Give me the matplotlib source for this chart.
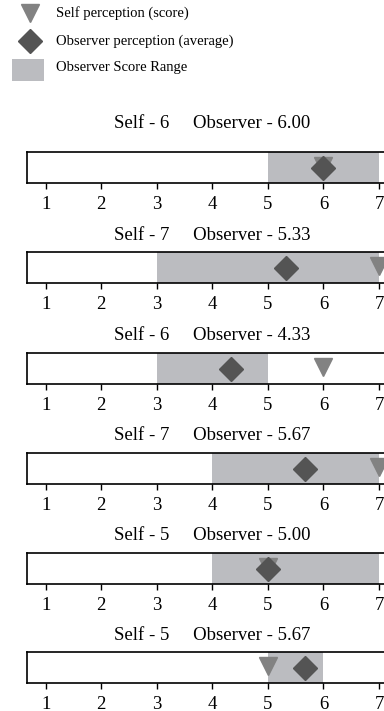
import numpy as np
import matplotlib.pyplot as plt
from matplotlib.patches import Rectangle

plt.rcParams['font.family'] = ['Liberation Serif', 'DejaVu Serif']

# data
self_score = [6, 7, 6, 7, 5, 5]
obs_avg = [6.00, 5.33, 4.33, 5.67, 5.00, 5.67]
obs_min = [5, 3, 3, 4, 4, 5]
obs_max = [7, 7, 5, 7, 7, 6]
ticks = [1, 2, 3, 4, 5, 6, 7]
legend_labels = ['Self perception (score)', 'Observer perception (average)',
                 'Observer Score Range']

range_color = '#bbbcc0'
diamond_color = '#545454'
tri_color = '#828282'

W, H = 384, 711
fig = plt.figure(figsize=(W / 100, H / 100), dpi=100)

# layout in pixels
box_top = [152, 252, 353, 453, 553, 652]
box_h = 31
x0, x1 = 27, 397.7
title_pad = [17, 9, 9, 9, 9, 9]

for i in range(len(self_score)):
    ax = fig.add_axes([x0 / W, 1 - (box_top[i] + box_h) / H, (x1 - x0) / W, box_h / H])
    ax.axvspan(obs_min[i], obs_max[i], color=range_color, lw=0, zorder=1)
    ax.plot(self_score[i], 0.55, marker='v', ms=13, color=tri_color, ls='none', zorder=3)
    ax.plot(obs_avg[i], 0.5, marker='D', ms=12, color=diamond_color, ls='none', zorder=4)
    ax.set_xlim(0.663, 7.337)
    ax.set_ylim(0, 1)
    ax.set_yticks([])
    ax.set_xticks(ticks)
    ax.set_xticklabels([str(t) for t in ticks])
    ax.tick_params(axis='x', direction='out', length=4.5, width=1.0, pad=5,
                   labelsize=13.5)
    for sp in ax.spines.values():
        sp.set_linewidth(1.2)
    ax.set_title('Self - %d     Observer - %.2f' % (self_score[i], obs_avg[i]),
                 fontsize=13.5, pad=title_pad[i])

# legend drawn in pixel space
lax = fig.add_axes([0, 0, 1, 1], zorder=-1)
lax.set_xlim(0, W)
lax.set_ylim(H, 0)
lax.axis('off')
lax.plot(30, 13, marker='v', ms=13, color=tri_color, ls='none')
lax.plot(30, 41, marker='D', ms=12, color=diamond_color, ls='none')
lax.add_patch(Rectangle((12, 59), 32, 22, color=range_color, lw=0))
for y, lab in zip([13, 41, 68], legend_labels):
    lax.text(56, y, lab, fontsize=10.5, va='center', ha='left')

fig.savefig('out.png', dpi=100)
